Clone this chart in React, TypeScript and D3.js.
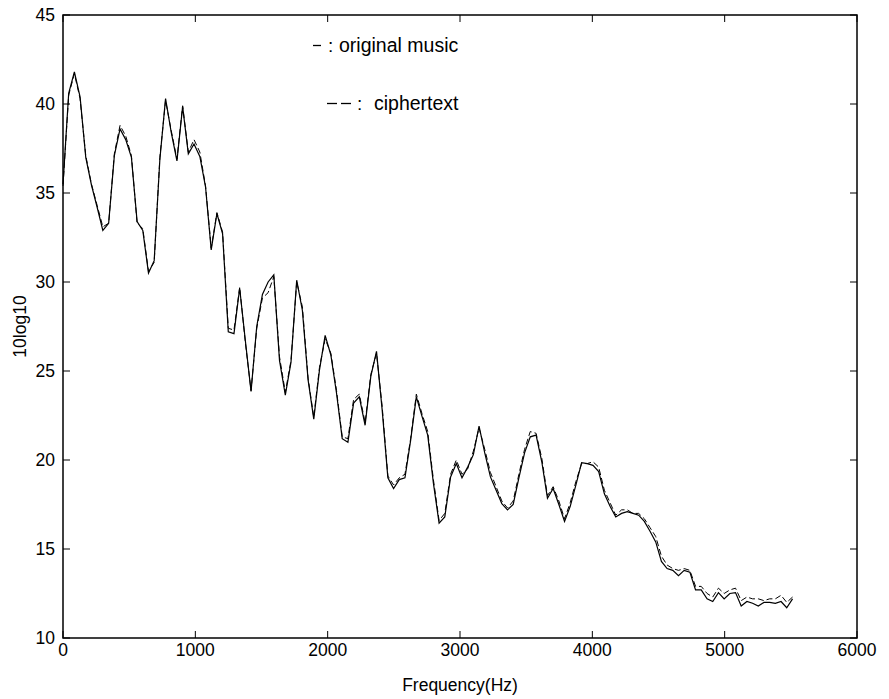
import React, { useEffect, useRef } from 'react';
import * as d3 from 'd3';

// frequency bins (Hz)
const freqs = [
  0, 43, 86, 129, 172, 215, 258, 301, 345, 388,
  431, 474, 517, 560, 603, 646, 689, 732, 775, 818,
  861, 904, 947, 990, 1034, 1077, 1120, 1163, 1206, 1249,
  1292, 1335, 1378, 1421, 1464, 1507, 1550, 1593, 1636, 1680,
  1723, 1766, 1809, 1852, 1895, 1938, 1981, 2024, 2067, 2110,
  2153, 2196, 2239, 2283, 2326, 2369, 2412, 2455, 2498, 2541,
  2584, 2627, 2670, 2713, 2756, 2799, 2842, 2885, 2929, 2972,
  3015, 3058, 3101, 3144, 3187, 3230, 3273, 3316, 3359, 3402,
  3445, 3488, 3531, 3575, 3618, 3661, 3704, 3747, 3790, 3833,
  3876, 3919, 3962, 4005, 4048, 4091, 4134, 4177, 4221, 4264,
  4307, 4350, 4393, 4436, 4479, 4522, 4565, 4608, 4651, 4694,
  4737, 4780, 4823, 4867, 4910, 4953, 4996, 5039, 5082, 5125,
  5168, 5211, 5254, 5297, 5340, 5383, 5426, 5469, 5513,
];

// 10log10 spectrum of the original music
const originalMusic = [
  35.5, 40.6, 41.8, 40.4, 37.0, 35.45, 34.2, 32.9, 33.3, 37.1,
  38.6, 38.0, 37.0, 33.4, 32.9, 30.5, 31.2, 36.9, 40.3, 38.4,
  36.8, 39.85, 37.2, 37.75, 37.05, 35.35, 31.8, 33.85, 32.7, 27.2,
  27.1, 29.65, 26.7, 23.85, 27.5, 29.3, 30.0, 30.4, 25.6, 23.65,
  25.5, 30.1, 28.4, 24.5, 22.3, 25.05, 27.0, 25.9, 23.75, 21.2,
  21.0, 23.2, 23.55, 21.95, 24.7, 26.1, 22.8, 19.0, 18.4, 18.9,
  19.0, 21.1, 23.55, 22.45, 21.4, 18.7, 16.45, 16.8, 19.05, 19.8,
  19.0, 19.6, 20.3, 21.9, 20.4, 19.05, 18.3, 17.55, 17.2, 17.5,
  19.0, 20.4, 21.3, 21.4, 19.9, 17.85, 18.4, 17.5, 16.55, 17.4,
  18.6, 19.85, 19.8, 19.7, 19.35, 18.1, 17.4, 16.8, 17.0, 17.1,
  17.0, 16.9, 16.55, 16.0, 15.4, 14.3, 13.9, 13.8, 13.5, 13.8,
  13.7, 12.7, 12.7, 12.2, 12.05, 12.55, 12.2, 12.5, 12.55, 11.8,
  12.05, 11.95, 11.8, 12.0, 12.0, 11.95, 12.05, 11.7, 12.2,
];

// 10log10 spectrum of the ciphertext
const cipherText = [
  35.4, 40.5, 41.7, 40.3, 37.1, 35.5, 34.3, 33.1, 33.3, 37.2,
  38.8, 38.2, 37.1, 33.3, 33.0, 30.6, 31.1, 37.0, 40.2, 38.5,
  36.9, 39.9, 37.3, 38.0, 37.3, 35.4, 31.9, 33.9, 32.8, 27.4,
  27.3, 29.7, 26.6, 23.9, 27.4, 29.1, 29.4, 30.3, 25.8, 23.8,
  25.6, 30.0, 28.6, 24.6, 22.4, 25.2, 26.8, 26.0, 23.9, 21.3,
  21.2, 23.4, 23.7, 22.1, 24.8, 26.0, 23.0, 19.1, 18.6, 19.0,
  19.2, 21.2, 23.7, 22.6, 21.6, 18.9, 16.6, 17.0, 19.2, 20.0,
  19.2, 19.5, 20.5, 21.8, 20.6, 19.3, 18.5, 17.7, 17.3, 17.7,
  19.2, 20.6, 21.6, 21.5, 20.1, 18.0, 18.5, 17.7, 16.7, 17.6,
  18.8, 19.8, 19.8, 19.9, 19.6, 18.3, 17.6, 16.9, 17.2, 17.2,
  17.0, 17.0, 16.7, 16.2, 15.7, 14.6, 14.1, 13.9, 13.8, 13.9,
  13.8, 12.9, 12.9, 12.5, 12.3, 12.8, 12.5, 12.7, 12.8, 12.1,
  12.3, 12.2, 12.2, 12.1, 12.2, 12.2, 12.4, 12.0, 12.3,
];

const xTicks = [0, 1000, 2000, 3000, 4000, 5000, 6000];
const yTicks = [10, 15, 20, 25, 30, 35, 40, 45];

const App = () => {
  const ref = useRef<SVGSVGElement>(null);

  useEffect(() => {
    const svg = d3.select(ref.current);
    svg.selectAll('*').remove();

    const width = 889;
    const height = 699;
    const margin = { top: 15, right: 32, bottom: 61, left: 63 };
    const innerW = width - margin.left - margin.right;
    const innerH = height - margin.top - margin.bottom;
    const font = '"Liberation Sans", Arial, Helvetica, sans-serif';
    const fs = '17.5px';

    const x = d3.scaleLinear().domain([0, 6000]).range([0, innerW]);
    const y = d3.scaleLinear().domain([10, 45]).range([innerH, 0]);

    const g = svg.append('g').attr('transform', `translate(${margin.left},${margin.top})`);

    // lines
    const line = d3
      .line<number>()
      .x((_, i) => x(freqs[i]))
      .y((d) => y(d));

    g.append('path')
      .datum(cipherText)
      .attr('d', line)
      .attr('fill', 'none')
      .attr('stroke', '#000')
      .attr('stroke-width', 1)
      .attr('stroke-dasharray', '6 3');

    g.append('path')
      .datum(originalMusic)
      .attr('d', line)
      .attr('fill', 'none')
      .attr('stroke', '#000')
      .attr('stroke-width', 1.2);

    // frame
    g.append('rect')
      .attr('width', innerW)
      .attr('height', innerH)
      .attr('fill', 'none')
      .attr('stroke', '#000')
      .attr('stroke-width', 1.5);

    // inward ticks on all four sides
    const tl = 7;
    xTicks.forEach((t) => {
      g.append('line').attr('x1', x(t)).attr('x2', x(t)).attr('y1', innerH).attr('y2', innerH - tl).attr('stroke', '#000');
      g.append('line').attr('x1', x(t)).attr('x2', x(t)).attr('y1', 0).attr('y2', tl).attr('stroke', '#000');
      g.append('text')
        .attr('x', x(t))
        .attr('y', innerH + 18)
        .attr('text-anchor', 'middle')
        .style('font-family', font)
        .style('font-size', fs)
        .text(t);
    });
    yTicks.forEach((t) => {
      g.append('line').attr('x1', 0).attr('x2', tl).attr('y1', y(t)).attr('y2', y(t)).attr('stroke', '#000');
      g.append('line').attr('x1', innerW).attr('x2', innerW - tl).attr('y1', y(t)).attr('y2', y(t)).attr('stroke', '#000');
      g.append('text')
        .attr('x', -8)
        .attr('y', y(t))
        .attr('dy', '0.35em')
        .attr('text-anchor', 'end')
        .style('font-family', font)
        .style('font-size', fs)
        .text(t);
    });

    // axis titles
    svg.append('text')
      .attr('x', margin.left + x(3000))
      .attr('y', 691)
      .attr('text-anchor', 'middle')
      .style('font-family', font)
      .style('font-size', fs)
      .text('Frequency(Hz)');

    svg.append('text')
      .attr('transform', `translate(26,${margin.top + innerH / 2}) rotate(-90)`)
      .attr('text-anchor', 'middle')
      .style('font-family', font)
      .style('font-size', fs)
      .text('10log10');

    // legend: dash marks drawn as short strokes, then colon and label
    const legend = [
      { dashes: [[313, 321]], colonX: 328, label: 'original music', lx: 339, y: 52 },
      { dashes: [[327, 337], [341, 351]], colonX: 357, label: 'ciphertext', lx: 374, y: 110 },
    ];
    legend.forEach((l) => {
      l.dashes.forEach(([a, b]) => {
        svg.append('line')
          .attr('x1', a)
          .attr('x2', b)
          .attr('y1', l.y - 6.5)
          .attr('y2', l.y - 6.5)
          .attr('stroke', '#000')
          .attr('stroke-width', 1.3);
      });
      svg.append('text')
        .attr('x', l.colonX)
        .attr('y', l.y)
        .style('font-family', font)
        .style('font-size', '19px')
        .text(':');
      svg.append('text')
        .attr('x', l.lx)
        .attr('y', l.y)
        .style('font-family', font)
        .style('font-size', '19.5px')
        .text(l.label);
    });
  }, []);

  return (
    <svg
      ref={ref}
      width={889}
      height={699}
      style={{ position: 'absolute', left: 0, top: 0, background: '#fff' }}
    />
  );
};

export default App;
